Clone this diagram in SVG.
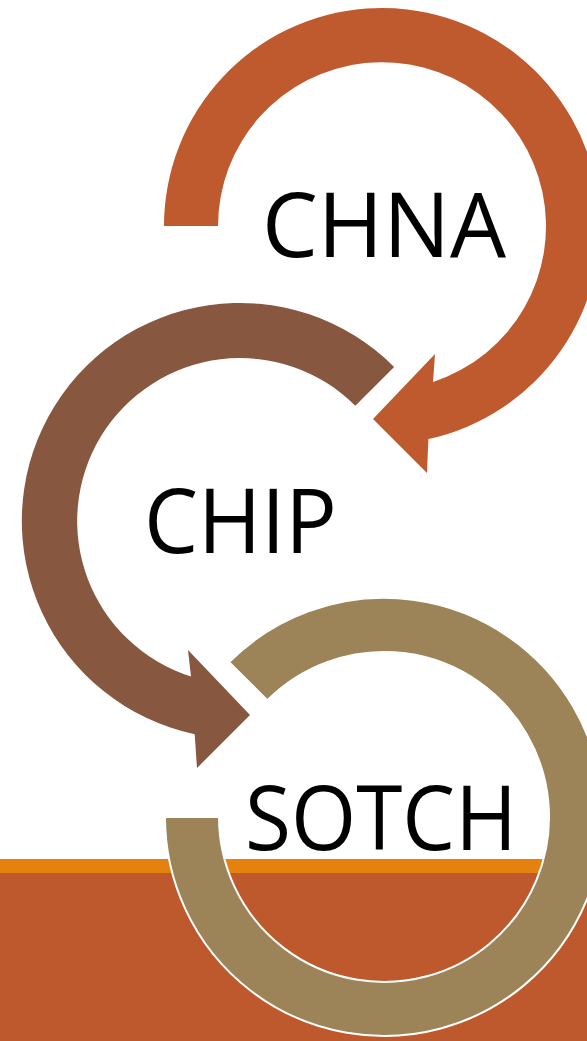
<svg xmlns="http://www.w3.org/2000/svg" width="587" height="1041" viewBox="0 0 587 1041">
<style>
.lbl{font-family:"Open Sans","Noto Sans","Liberation Sans",sans-serif;font-size:90px;fill:#000}
.c1{fill:#BE5A2E}
.c2{fill:#87573F}
.c3{fill:#9C8358;stroke:#FFFFFF;stroke-width:2}
</style>
<rect x="0" y="0" width="587" height="1041" fill="#FFFFFF"/>
<g id="band">
<rect x="0" y="859" width="587" height="14" fill="#E4820F"/>
<rect x="0" y="873" width="587" height="168" fill="#BE592D"/>
</g>
<g id="connectors"></g>
<g id="chna">
<path class="c1" d="M164,226 A218,218 0 1 1 428.4,439 L427,473 L373,419 L435,354 L433,382 A164,164 0 1 0 218,226 Z"/>
<text class="lbl" x="262" y="257" textLength="244" lengthAdjust="spacingAndGlyphs">CHNA</text>
</g>
<g id="chip">
<path class="c2" d="M394.1,366.9 A218,218 0 1 0 194.7,734.2 L197,768 L250,715 L188,650 L191,676.5 A163,163 0 1 1 355.3,405.7 Z"/>
<text class="lbl" x="144" y="553" textLength="193" lengthAdjust="spacingAndGlyphs">CHIP</text>
</g>
<g id="sotch">
<path class="c3" d="M229.1,662.1 A219,219 0 1 1 165,817 L219,817 A165,165 0 1 0 267.3,700.3 Z"/>
<text class="lbl" x="245" y="850" textLength="272" lengthAdjust="spacingAndGlyphs">SOTCH</text>
</g>
</svg>
